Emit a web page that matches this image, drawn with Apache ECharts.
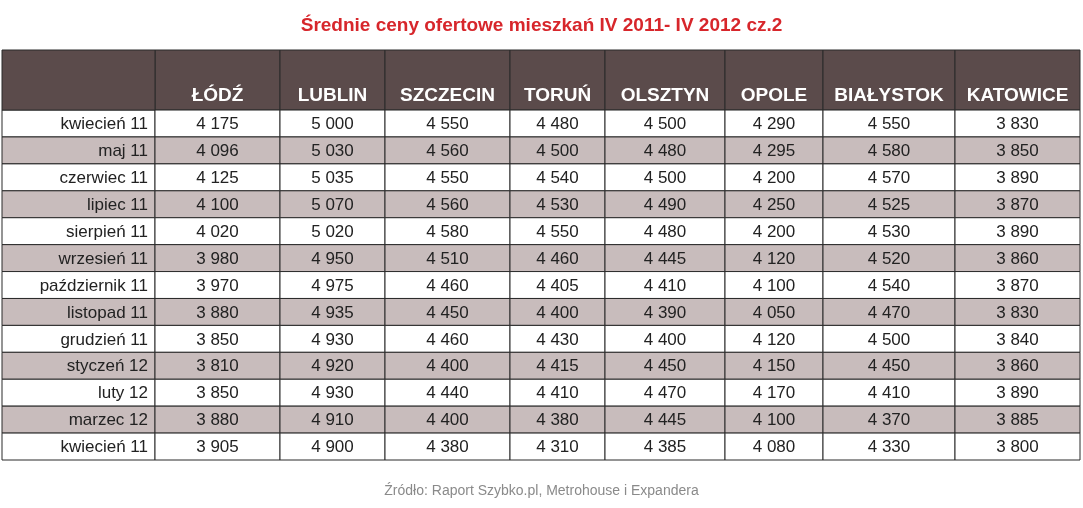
<!DOCTYPE html>
<html><head><meta charset="utf-8">
<script src="https://cdn.jsdelivr.net/npm/echarts@6/dist/echarts.min.js"></script>
<style>html,body{margin:0;background:#fff}#c{width:1083px;height:508px}</style>
</head><body><div id="c"></div>
<script>
var cities = ['ŁÓDŹ', 'LUBLIN', 'SZCZECIN', 'TORUŃ', 'OLSZTYN', 'OPOLE', 'BIAŁYSTOK', 'KATOWICE']
var months = ['kwiecień 11', 'maj 11', 'czerwiec 11', 'lipiec 11', 'sierpień 11', 'wrzesień 11', 'październik 11',
    'listopad 11', 'grudzień 11', 'styczeń 12', 'luty 12', 'marzec 12', 'kwiecień 11']
var lodz = [4175, 4096, 4125, 4100, 4020, 3980, 3970, 3880, 3850, 3810, 3850, 3880, 3905]
var lublin = [5000, 5030, 5035, 5070, 5020, 4950, 4975, 4935, 4930, 4920, 4930, 4910, 4900]
var szczecin = [4550, 4560, 4550, 4560, 4580, 4510, 4460, 4450, 4460, 4400, 4440, 4400, 4380]
var torun = [4480, 4500, 4540, 4530, 4550, 4460, 4405, 4400, 4430, 4415, 4410, 4380, 4310]
var olsztyn = [4500, 4480, 4500, 4490, 4480, 4445, 4410, 4390, 4400, 4450, 4470, 4445, 4385]
var opole = [4290, 4295, 4200, 4250, 4200, 4120, 4100, 4050, 4120, 4150, 4170, 4100, 4080]
var bialystok = [4550, 4580, 4570, 4525, 4530, 4520, 4540, 4470, 4500, 4450, 4410, 4370, 4330]
var katowice = [3830, 3850, 3890, 3870, 3890, 3860, 3870, 3830, 3840, 3860, 3890, 3885, 3800]
var columns = [lodz, lublin, szczecin, torun, olsztyn, opole, bialystok, katowice]

// layout
var colWidths = [153, 125, 105, 125, 95, 120, 98, 132, 125]
var headH = 60 / 26.9
var edges = [0]
colWidths.forEach(function (w) { edges.push(edges[edges.length - 1] + w) })

function fmt(v) {
    var s = String(v)
    return s.slice(0, s.length - 3) + '\u00a0' + s.slice(-3)
}

var cells = []
for (var c = 0; c < cities.length; c++) cells.push([c + 1, -1, cities[c], 'h'])
months.forEach(function (m, r) {
    cells.push([0, r, m, 'l'])
    for (var c = 0; c < columns.length; c++) cells.push([c + 1, r, fmt(columns[c][r]), 'v'])
})

var chart = echarts.init(document.getElementById('c'))
chart.setOption({
    animation: false,
    title: {
        text: 'Średnie ceny ofertowe mieszkań IV 2011- IV 2012 cz.2',
        left: 'center', top: 11,
        textStyle: { color: '#d7262b', fontSize: 19, fontWeight: 'bold', fontFamily: 'Liberation Sans' }
    },
    graphic: [{
        type: 'text', left: 'center', top: 484,
        style: { text: 'Źródło: Raport Szybko.pl, Metrohouse i Expandera', fill: '#8a8a8a', fontSize: 14, fontFamily: 'Liberation Sans' }
    }],
    grid: { left: 2, right: 3, top: 50, bottom: 48 },
    xAxis: { type: 'value', min: 0, max: edges[edges.length - 1], show: false },
    yAxis: { type: 'value', min: 0, max: headH + months.length, inverse: true, show: false },
    series: [{
        type: 'custom',
        data: cells,
        renderItem: function (params, api) {
            var c = api.value(0), r = api.value(1), d = cells[params.dataIndex]
            var y0 = r < 0 ? 0 : headH + r, y1 = r < 0 ? headH : headH + r + 1
            var p0 = api.coord([edges[c], y0]), p1 = api.coord([edges[c + 1], y1])
            var fill = r < 0 ? '#5b4b4b' : (r % 2 ? '#c8bcbc' : '#ffffff')
            var kids = [{
                type: 'rect',
                shape: { x: p0[0], y: p0[1], width: p1[0] - p0[0], height: p1[1] - p0[1] },
                style: { fill: fill, stroke: '#2b2b2b', lineWidth: 1 }
            }]
            var txt
            if (d[3] === 'h') {
                txt = { x: (p0[0] + p1[0]) / 2, y: p1[1] - 14, text: d[2], fill: '#fff', fontSize: 19,
                    fontWeight: 'bold', align: 'center', verticalAlign: 'middle' }
            } else if (d[3] === 'l') {
                txt = { x: p1[0] - 7, y: (p0[1] + p1[1]) / 2 + 1, text: d[2], fill: '#222', fontSize: 17,
                    align: 'right', verticalAlign: 'middle' }
            } else {
                txt = { x: (p0[0] + p1[0]) / 2, y: (p0[1] + p1[1]) / 2 + 1, text: d[2], fill: '#222', fontSize: 17,
                    align: 'center', verticalAlign: 'middle' }
            }
            txt.fontFamily = 'Liberation Sans'
            kids.push({ type: 'text', style: txt })
            return { type: 'group', children: kids }
        }
    }, {
        type: 'custom',
        data: [[0, -1]],
        renderItem: function (params, api) {
            var p0 = api.coord([0, 0]), p1 = api.coord([edges[1], headH])
            return { type: 'rect', shape: { x: p0[0], y: p0[1], width: p1[0] - p0[0], height: p1[1] - p0[1] },
                style: { fill: '#5b4b4b', stroke: '#2b2b2b', lineWidth: 1 } }
        }
    }]
})
</script></body></html>
